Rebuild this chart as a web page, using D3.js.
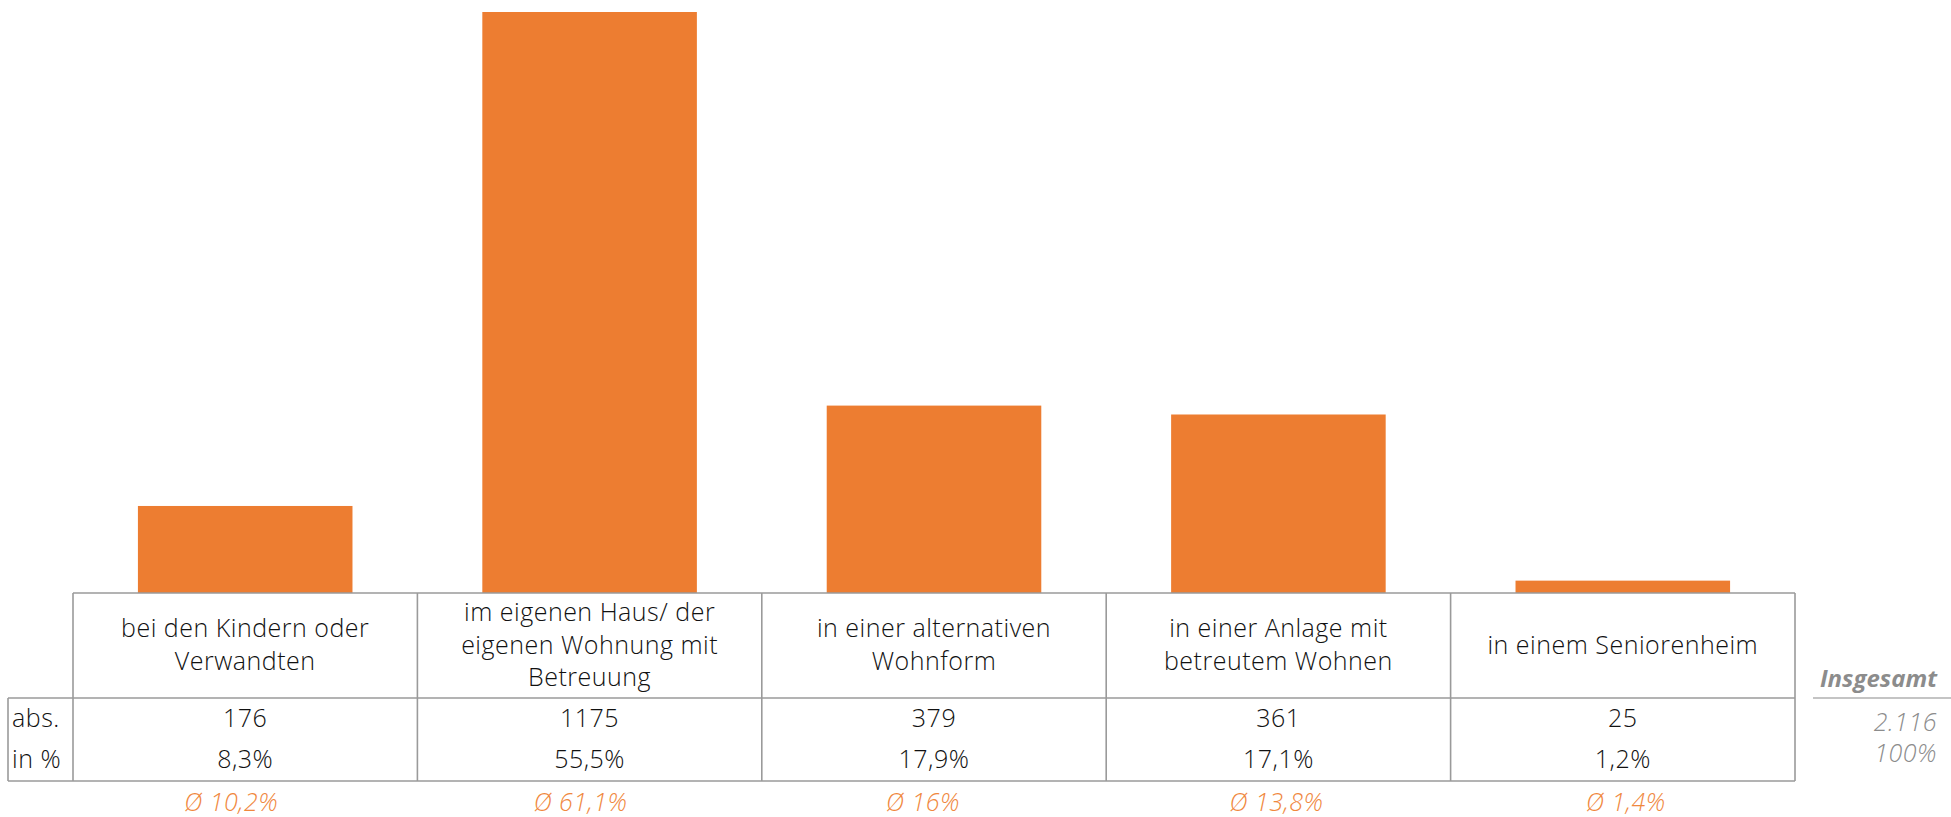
<!DOCTYPE html>
<html>
<head>
<meta charset="utf-8">
<script src="https://cdn.jsdelivr.net/npm/d3@7"></script>
<style>
  html, body { margin: 0; padding: 0; background: #fff; }
  svg { display: block; }
  text { font-family: "Open Sans", "Noto Sans", sans-serif; }
</style>
</head>
<body>
<svg id="chart" width="1951" height="817"></svg>
<script>
// ---- data ----
const categories = [
  ["bei den Kindern oder", "Verwandten"],
  ["im eigenen Haus/ der", "eigenen Wohnung mit", "Betreuung"],
  ["in einer alternativen", "Wohnform"],
  ["in einer Anlage mit", "betreutem Wohnen"],
  ["in einem Seniorenheim"]
];
const absValues = [176, 1175, 379, 361, 25];
const pctLabels = ["8,3%", "55,5%", "17,9%", "17,1%", "1,2%"];
const avgLabels = ["Ø 10,2%", "Ø 61,1%", "Ø 16%", "Ø 13,8%", "Ø 1,4%"];
const rowLabels = ["abs.", "in %"];
const totalTitle = "Insgesamt";
const totalValues = ["2.116", "100%"];

// ---- layout ----
const svg = d3.select("#chart");
const ids = d3.range(categories.length);
const tableTop = 593, headerBottom = 698, tableBottom = 781;
const labelLeft = 8, colLeft = 73, colRight = 1795;
const lineColor = "#9a9a9a";
const barColor = "#ED7D31";
const avgNudge = [-14, -9, -11, -2, 3];

const x = d3.scaleBand().domain(ids).range([colLeft, colRight]).paddingInner(0).paddingOuter(0);
const y = d3.scaleLinear().domain([0, 1175]).range([tableTop, 12]);
const barW = x.bandwidth() * 0.623;

// bars
svg.append("g").selectAll("rect").data(ids).join("rect")
  .attr("x", i => x(i) + (x.bandwidth() - barW) / 2)
  .attr("width", barW)
  .attr("y", i => y(absValues[i]))
  .attr("height", i => y(0) - y(absValues[i]))
  .attr("fill", barColor);

// table grid
const grid = svg.append("g").attr("stroke", lineColor).attr("stroke-width", 1.6).attr("fill", "none");
grid.append("line").attr("x1", colLeft).attr("x2", colRight).attr("y1", tableTop).attr("y2", tableTop);
grid.append("line").attr("x1", labelLeft).attr("x2", colRight).attr("y1", headerBottom).attr("y2", headerBottom);
grid.append("line").attr("x1", labelLeft).attr("x2", colRight).attr("y1", tableBottom).attr("y2", tableBottom);
grid.append("line").attr("x1", labelLeft).attr("x2", labelLeft).attr("y1", headerBottom).attr("y2", tableBottom);
const borders = ids.map(i => x(i)).concat([colRight]);
grid.selectAll("line.v").data(borders).join("line").attr("class", "v")
  .attr("x1", d => d).attr("x2", d => d).attr("y1", tableTop).attr("y2", tableBottom);

const fs = 25, lh = 32.5, ls = 0.5;
const textColor = "#111";
const fw = 300;
// header texts
const headCenter = (tableTop + headerBottom) / 2;
const hg = svg.append("g");
ids.forEach(i => {
  const lines = categories[i];
  const t = hg.append("text")
    .attr("text-anchor", "middle")
    .attr("font-size", fs).attr("font-weight", fw).attr("letter-spacing", ls)
    .attr("fill", textColor);
  lines.forEach((ln, k) => {
    t.append("tspan")
      .attr("x", x(i) + x.bandwidth() / 2)
      .attr("y", headCenter + 8 + (k - (lines.length - 1) / 2) * lh)
      .text(ln);
  });
});

// row labels
const rowY = [727, 768];
svg.append("g").selectAll("text").data(rowLabels).join("text")
  .attr("x", labelLeft + 4).attr("y", (d, k) => rowY[k])
  .attr("font-size", fs).attr("font-weight", fw).attr("letter-spacing", ls).attr("fill", textColor)
  .text(d => d);

// values
svg.append("g").selectAll("text").data(ids).join("text")
  .attr("x", i => x(i) + x.bandwidth() / 2).attr("y", rowY[0])
  .attr("text-anchor", "middle").attr("font-size", fs).attr("font-weight", fw).attr("letter-spacing", ls).attr("fill", textColor)
  .text(i => absValues[i]);
svg.append("g").selectAll("text").data(ids).join("text")
  .attr("x", i => x(i) + x.bandwidth() / 2).attr("y", rowY[1])
  .attr("text-anchor", "middle").attr("font-size", fs).attr("font-weight", fw).attr("letter-spacing", ls).attr("fill", textColor)
  .text(i => pctLabels[i]);

// averages
svg.append("g").selectAll("text").data(ids).join("text")
  .attr("x", i => x(i) + x.bandwidth() / 2 + avgNudge[i]).attr("y", 811)
  .attr("text-anchor", "middle").attr("font-size", fs).attr("font-weight", fw).attr("letter-spacing", ls)
  .attr("font-style", "italic").attr("fill", "#F0883E")
  .text(i => avgLabels[i]);

// totals
const totRight = 1937;
svg.append("text").attr("x", totRight).attr("y", 687).attr("text-anchor", "end")
  .attr("font-size", 24).attr("font-weight", 700).attr("font-style", "italic").attr("fill", "#8c8c8c")
  .text(totalTitle);
svg.append("line").attr("x1", 1813).attr("x2", 1951).attr("y1", 698).attr("y2", 698)
  .attr("stroke", "#b0b0b0").attr("stroke-width", 1.6);
svg.append("g").selectAll("text").data(totalValues).join("text")
  .attr("x", totRight).attr("y", (d, k) => [731, 762][k]).attr("text-anchor", "end")
  .attr("font-size", fs).attr("font-weight", fw).attr("letter-spacing", ls).attr("font-style", "italic").attr("fill", "#8c8c8c")
  .text(d => d);
</script>
</body>
</html>
